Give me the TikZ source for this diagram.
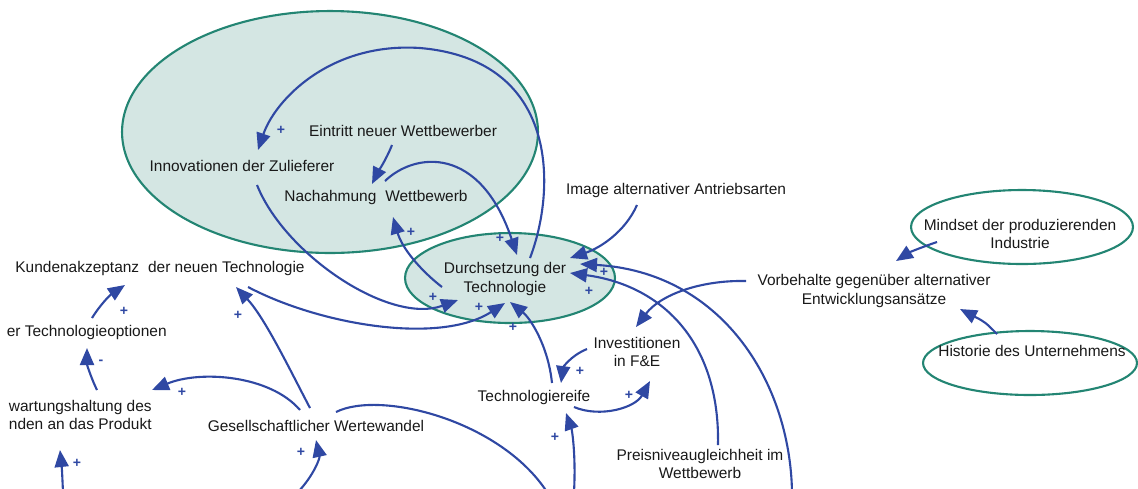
\documentclass[tikz,border=0pt]{standalone}
\usepackage{fontspec}
\setmainfont{Liberation Sans}
\usetikzlibrary{arrows.meta,shapes.geometric,calc}
\definecolor{loopblue}{RGB}{47,72,163}
\definecolor{tealline}{RGB}{35,133,115}
\definecolor{tealfill}{RGB}{212,230,227}
\definecolor{txt}{RGB}{25,25,25}
\begin{document}
\begin{tikzpicture}[x=0.02cm,y=-0.02cm,
  lbl/.style={font=\fontsize{8.8}{10.6}\selectfont, text=txt, inner sep=0pt, align=center},
  sign/.style={font=\fontsize{8}{9}\selectfont\bfseries, text=loopblue, inner sep=0pt},
  cluster/.style={draw=tealline, line width=1.2pt, fill=tealfill, ellipse, inner sep=0pt},
  frame/.style={draw=tealline, line width=1.2pt, fill=white, ellipse, inner sep=0pt},
  link/.style={draw=loopblue, line width=1.2pt, -{Triangle[length=0.34cm,width=0.28cm]}},
  plain/.style={draw=loopblue, line width=1.2pt}]
\useasboundingbox (0,0) rectangle (1138,488);
\clip (0,0) rectangle (1138,488);

% clusters
\node[cluster, minimum width=8.32cm, minimum height=4.84cm] (bigE) at (330,132) {};
\node[cluster, minimum width=4.2cm, minimum height=1.8cm] (durchE) at (510,278) {};
\node[frame, minimum width=4.44cm, minimum height=1.48cm] (mindE) at (1022,227) {};
\node[frame, minimum width=4.28cm, minimum height=1.28cm] (histE) at (1030,363) {};

% variables
\node[lbl] (innov) at (242,166) {Innovationen der Zulieferer};
\node[lbl] (eintritt) at (403,131) {Eintritt neuer Wettbewerber};
\node[lbl] (nach) at (376,197) {Nachahmung\hspace{0.3em} Wettbewerb};
\node[lbl] (durch) at (505,279) {Durchsetzung der\\Technologie};
\node[lbl] (image) at (676,190) {Image alternativer Antriebsarten};
\node[lbl] (kunden) at (160,268) {Kundenakzeptanz\hspace{0.3em} der neuen Technologie};
\node[lbl, anchor=east] (techopt) at (167,332) {er Technologieoptionen};
\node[lbl, anchor=east, align=right] (erw) at (152,415) {wartungshaltung des\\nden an das Produkt};
\node[lbl] (gesell) at (316,426) {Gesellschaftlicher Wertewandel};
\node[lbl] (reife) at (534,397) {Technologiereife};
\node[lbl] (invest) at (637,352) {Investitionen\\in F\&E};
\node[lbl] (preis) at (700,464) {Preisniveaugleichheit im\\Wettbewerb};
\node[lbl] (vorb) at (874,291) {Vorbehalte gegenüber alternativer\\Entwicklungsansätze};
\node[lbl] (mind) at (1020,234) {Mindset der produzierenden\\Industrie};
\node[lbl] (hist) at (1032,351) {Historie des Unternehmens};

% loose ends at the lower edge
\coordinate (offA) at (792,492);
\coordinate (offB) at (574,492);
\coordinate (offC) at (547,492);
\coordinate (offD) at (298,492);
\coordinate (offE) at (63,492);

% causal links
\draw[link] ($(durchE)+(20,-20)$) .. controls (556,190) and (560,60) .. (420,48)
  .. controls (330,42) and (275,100) .. ($(innov)+(16,-16)$);
\draw[link] ($(eintritt)+(-11,14)$) .. controls (386,160) and (378,172) .. ($(nach)+(-4,-13)$);
\draw[link] ($(nach)+(9,-16)$) .. controls (415,152) and (480,145) .. ($(durchE)+(7,-23)$);
\draw[link] ($(durchE)+(-68,9)$) .. controls (420,270) and (402,248) .. ($(nach)+(17,20)$);
\draw[link] ($(image)+(-39,15)$) .. controls (625,232) and (600,248) .. ($(durchE)+(60,-20)$);
\draw[link] (offA) .. controls (790,380) and (720,272) .. ($(durchE)+(70,-14)$);
\draw[link] ($(preis)+(18,-19)$) .. controls (720,340) and (660,285) .. ($(durchE)+(60,-5)$);
\draw[link] ($(vorb)+(-128,-10)$) .. controls (700,280) and (660,295) .. ($(invest)+(-1,-25)$);
\draw[link] ($(mindE)+(-85,15)$) .. controls (925,246) and (910,252) .. ($(vorb)+(22,-30)$);
\draw[link] ($(histE)+(-33,-29)$) .. controls (985,322) .. ($(vorb)+(86,18)$);
\draw[link] ($(invest)+(-50,-3)$) .. controls (570,356) and (563,368) .. ($(reife)+(27,-14)$);
\draw[link] ($(reife)+(40,10)$) .. controls (600,418) and (635,408) .. ($(invest)+(13,29)$);
\draw[link] ($(reife)+(18,-14)$) .. controls (548,345) and (530,318) .. ($(durchE)+(0,24)$);
\draw[link] (offB) .. controls (576,455) and (572,430) .. ($(reife)+(32,16)$);
\draw[plain] ($(gesell)+(20,-14)$) .. controls (380,390) and (500,420) .. (offC);
\draw[link] (offD) .. controls (314,475) and (320,458) .. ($(gesell)+(0,14)$);
\draw[link] ($(gesell)+(-6,-18)$) .. controls (290,370) and (265,318) .. ($(kunden)+(76,19)$);
\draw[link] ($(gesell)+(-16,-16)$) .. controls (270,375) and (200,370) .. ($(erw.east)+(0,-25)$);
\draw[link] ($(erw.east)+(-55,-25)$) .. controls (92,380) and (87,365) .. ($(techopt.east)+(-80,16)$);
\draw[link] ($(techopt.east)+(-75,-14)$) .. controls (100,305) and (110,295) .. ($(kunden)+(-35,17)$);
\draw[link] (offE) .. controls (62,470) .. ($(erw.east)+(-92,35)$);
\draw[link] ($(kunden)+(88,19)$) .. controls (320,325) and (440,345) .. ($(durchE)+(-5,25)$);
\draw[link] ($(innov)+(15,19)$) .. controls (285,255) and (390,325) .. ($(durchE)+(-52,22)$);

% polarities
\node[sign] (s1) at (281,130) {+};
\node[sign] (s2) at (500,238) {+};
\node[sign] (s3) at (411,232) {+};
\node[sign] (s4) at (604,272) {+};
\node[sign] (s5) at (589,291) {+};
\node[sign] (s6) at (433,297) {+};
\node[sign] (s7) at (479,307) {+};
\node[sign] (s8) at (513,327) {+};
\node[sign] (s9) at (580,371) {+};
\node[sign] (s10) at (629,395) {+};
\node[sign] (s11) at (555,437) {+};
\node[sign] (s12) at (301,452) {+};
\node[sign] (s13) at (238,315) {+};
\node[sign] (s14) at (182,392) {+};
\node[sign] (s15) at (101,362) {-};
\node[sign] (s16) at (124,311) {+};
\node[sign] (s17) at (77,463) {+};
\end{tikzpicture}
\end{document}
